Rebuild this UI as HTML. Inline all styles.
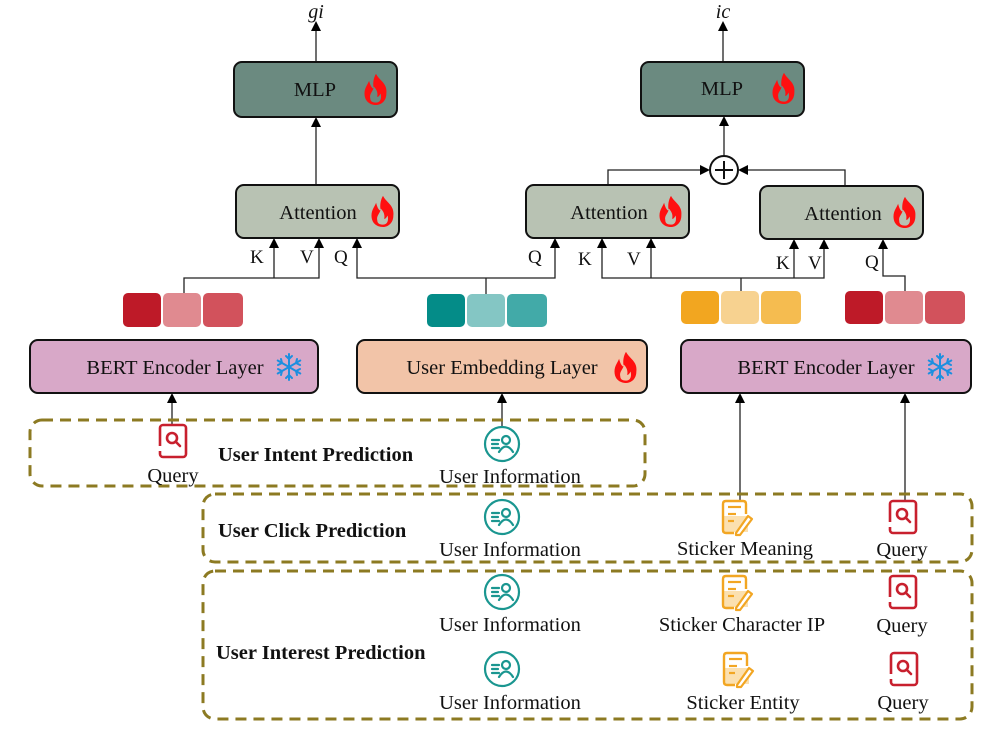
<!DOCTYPE html>
<html><head><meta charset="utf-8"><style>
html,body{margin:0;padding:0;background:#fff;}
svg{display:block;}
text{font-family:"Liberation Serif",serif;fill:#111;}
</style></head><body>
<svg width="997" height="729" viewBox="0 0 997 729" xmlns="http://www.w3.org/2000/svg">
<defs>
<g id="flame">
<path d="M0,-14 C3,-8 10,-6 9,3 C9,10 4,13 0,13 C-5,13 -10,10 -10,3 C-10,-2 -7,-5 -6,-8 C-5,-4 -4,-2 -2,-1 C-3,-6 -2,-11 0,-14 Z M0,11 C4,11 5,7 4,3 C3,5 2,6 1,6 C2,2 0,-1 -2,-3 C-2,1 -6,3 -5,7 C-5,10 -3,11 0,11 Z" fill="#ff1010" fill-rule="evenodd" transform="scale(1.15)"/>
</g>
<g id="snow" stroke="#1c8fe0" stroke-width="2" stroke-linecap="round" fill="none">
<line x1="0" y1="-13" x2="0" y2="13"/>
<line x1="-11.3" y1="-6.5" x2="11.3" y2="6.5"/>
<line x1="-11.3" y1="6.5" x2="11.3" y2="-6.5"/>
<path d="M-3,-11 L0,-8 L3,-11 M-3,11 L0,8 L3,11 M-11,-2 L-7,-4 L-8,-8 M11,2 L7,4 L8,8 M-11,2 L-7,4 L-8,8 M11,-2 L7,-4 L8,-8"/>
</g>
<g id="query">
<rect x="-13" y="-16" width="26" height="32" rx="3" fill="none" stroke="#c8202e" stroke-width="2.6"/>
<rect x="-15" y="5" width="4" height="5" fill="#fff"/>
<circle cx="-1" cy="-3" r="5" fill="none" stroke="#c8202e" stroke-width="2.6"/>
<line x1="3" y1="1" x2="7" y2="5" stroke="#c8202e" stroke-width="2.6" stroke-linecap="round"/>
</g>
<g id="user" fill="none" stroke="#1a9690" stroke-width="2.2" stroke-linecap="round">
<circle cx="0" cy="0" r="17"/>
<line x1="-10" y1="-4" x2="-3" y2="-4"/>
<line x1="-10" y1="0" x2="-4" y2="0"/>
<line x1="-10" y1="4" x2="-3" y2="4"/>
<circle cx="4" cy="-4" r="4"/>
<path d="M-3,8 Q4,-3 11,8"/>
</g>
<g id="sticker">
<rect x="-14" y="-2" width="24" height="16" fill="#fbe0b0"/>
<path d="M8,-4 V-14 Q8,-17 5,-17 H-12 Q-15,-17 -15,-14 V12 Q-15,15 -12,15 H-4" fill="none" stroke="#f2a623" stroke-width="2.4"/>
<line x1="-10" y1="-11" x2="3" y2="-11" stroke="#f2a623" stroke-width="2.2"/>
<line x1="-10" y1="-4" x2="-2" y2="-4" stroke="#f2a623" stroke-width="2.2"/>
<line x1="-10" y1="3" x2="-4" y2="3" stroke="#f2a623" stroke-width="2.2"/>
<path d="M-2,15 L10,-2 L14,1 L2,17 L-2,17 Z" fill="#fff" stroke="#f2a623" stroke-width="2.2" stroke-linejoin="round"/>
</g>
</defs>

<g stroke="#222" stroke-width="1.3" fill="none">
<line x1="316" y1="62" x2="316" y2="28"/>
<line x1="723" y1="62" x2="723" y2="28"/>
<line x1="316" y1="185" x2="316" y2="124"/>
<line x1="724" y1="156" x2="724" y2="123"/>
<polyline points="608,185 608,170 702,170"/>
<polyline points="845,186 845,170 746,170"/>
<polyline points="184,293 184,278 319,278 319,246"/>
<line x1="274" y1="278" x2="274" y2="246"/>
<polyline points="357,246 357,278 555,278 555,246"/>
<line x1="486" y1="278" x2="486" y2="294"/>
<polyline points="602,246 602,278 824,278 824,247"/>
<line x1="651" y1="278" x2="651" y2="246"/>
<line x1="794" y1="278" x2="794" y2="247"/>
<line x1="741" y1="278" x2="741" y2="291"/>
<polyline points="883,247 883,276 905,276 905,291"/>
<line x1="172" y1="425" x2="172" y2="400"/>
<line x1="502" y1="427" x2="502" y2="400"/>
<line x1="740" y1="500" x2="740" y2="400"/>
<line x1="905" y1="500" x2="905" y2="400"/>
</g>
<g fill="#000">
<polygon points="316,21 311,31 321,31"/>
<polygon points="723,21 718,31 728,31"/>
<polygon points="316,117 311,127 321,127"/>
<polygon points="724,116 719,126 729,126"/>
<polygon points="710,170 700,165 700,175"/>
<polygon points="738,170 748,165 748,175"/>
<polygon points="274,238 269,248 279,248"/>
<polygon points="319,238 314,248 324,248"/>
<polygon points="357,238 352,248 362,248"/>
<polygon points="555,238 550,248 560,248"/>
<polygon points="602,238 597,248 607,248"/>
<polygon points="651,238 646,248 656,248"/>
<polygon points="794,239 789,249 799,249"/>
<polygon points="824,239 819,249 829,249"/>
<polygon points="883,239 878,249 888,249"/>
<polygon points="172,393 167,403 177,403"/>
<polygon points="502,393 497,403 507,403"/>
<polygon points="740,393 735,403 745,403"/>
<polygon points="905,393 900,403 910,403"/>
</g>

<circle cx="724" cy="170" r="14" fill="#fff" stroke="#111" stroke-width="2"/>
<line x1="715" y1="170" x2="733" y2="170" stroke="#111" stroke-width="2"/>
<line x1="724" y1="161" x2="724" y2="179" stroke="#111" stroke-width="2"/>

<text x="316" y="18" font-size="20" font-style="italic" text-anchor="middle">gi</text>
<text x="723" y="18" font-size="20" font-style="italic" text-anchor="middle">ic</text>

<rect x="234" y="62" width="163" height="55" rx="8" fill="#6b8a80" stroke="#111" stroke-width="2"/>
<text x="315" y="96" font-size="20.5" text-anchor="middle">MLP</text>
<use href="#flame" x="376" y="90"/>
<rect x="641" y="62" width="163" height="54" rx="8" fill="#6b8a80" stroke="#111" stroke-width="2"/>
<text x="722" y="95" font-size="20.5" text-anchor="middle">MLP</text>
<use href="#flame" x="784" y="89"/>

<rect x="236" y="185" width="163" height="53" rx="8" fill="#b8c2b3" stroke="#111" stroke-width="2"/>
<text x="318" y="219" font-size="20.5" text-anchor="middle">Attention</text>
<use href="#flame" x="383" y="212"/>
<rect x="526" y="185" width="163" height="53" rx="8" fill="#b8c2b3" stroke="#111" stroke-width="2"/>
<text x="609" y="219" font-size="20.5" text-anchor="middle">Attention</text>
<use href="#flame" x="671" y="212"/>
<rect x="760" y="186" width="163" height="53" rx="8" fill="#b8c2b3" stroke="#111" stroke-width="2"/>
<text x="843" y="220" font-size="20.5" text-anchor="middle">Attention</text>
<use href="#flame" x="905" y="213"/>

<g font-size="19">
<text x="250" y="263">K</text><text x="300" y="263">V</text><text x="334" y="263">Q</text>
<text x="528" y="263">Q</text><text x="578" y="265">K</text><text x="627" y="265">V</text>
<text x="776" y="269">K</text><text x="808" y="269">V</text><text x="865" y="268">Q</text>
</g>

<rect x="123" y="293" width="38" height="34" rx="5" fill="#be1a28"/>
<rect x="163" y="293" width="38" height="34" rx="5" fill="#e08a90"/>
<rect x="203" y="293" width="40" height="34" rx="5" fill="#d2525c"/>
<rect x="427" y="294" width="38" height="33" rx="5" fill="#048c88"/>
<rect x="467" y="294" width="38" height="33" rx="5" fill="#84c6c4"/>
<rect x="507" y="294" width="40" height="33" rx="5" fill="#42aaa8"/>
<rect x="681" y="291" width="38" height="33" rx="5" fill="#f2a620"/>
<rect x="721" y="291" width="38" height="33" rx="5" fill="#f7d290"/>
<rect x="761" y="291" width="40" height="33" rx="5" fill="#f5bc50"/>
<rect x="845" y="291" width="38" height="33" rx="5" fill="#be1a28"/>
<rect x="885" y="291" width="38" height="33" rx="5" fill="#e08a90"/>
<rect x="925" y="291" width="40" height="33" rx="5" fill="#d2525c"/>

<rect x="30" y="340" width="288" height="53" rx="8" fill="#d8a8c8" stroke="#111" stroke-width="2"/>
<text x="175" y="374" font-size="20.5" text-anchor="middle">BERT Encoder Layer</text>
<use href="#snow" x="289" y="367"/>
<rect x="357" y="340" width="290" height="53" rx="8" fill="#f2c4a8" stroke="#111" stroke-width="2"/>
<text x="502" y="374" font-size="20.5" text-anchor="middle">User Embedding Layer</text>
<use href="#flame" x="626" y="368"/>
<rect x="681" y="340" width="290" height="53" rx="8" fill="#d8a8c8" stroke="#111" stroke-width="2"/>
<text x="826" y="374" font-size="20.5" text-anchor="middle">BERT Encoder Layer</text>
<use href="#snow" x="940" y="367"/>

<g fill="none" stroke="#8c7a22" stroke-width="3" stroke-dasharray="11,7">
<rect x="30" y="420" width="615" height="66" rx="12"/>
<rect x="203" y="494" width="769" height="68" rx="12"/>
<rect x="203" y="571" width="769" height="148" rx="12"/>
</g>

<use href="#query" x="173" y="441"/>
<text x="173" y="482" font-size="20.5" text-anchor="middle">Query</text>
<text x="218" y="461" font-size="20.5" font-weight="bold">User Intent Prediction</text>
<use href="#user" x="502" y="444"/>
<text x="510" y="483" font-size="20.5" text-anchor="middle">User Information</text>

<text x="218" y="537" font-size="20.5" font-weight="bold">User Click Prediction</text>
<use href="#user" x="502" y="517"/>
<text x="510" y="556" font-size="20.5" text-anchor="middle">User Information</text>
<use href="#sticker" x="738" y="518"/>
<text x="745" y="555" font-size="20.5" text-anchor="middle">Sticker Meaning</text>
<use href="#query" x="903" y="517"/>
<text x="902" y="556" font-size="20.5" text-anchor="middle">Query</text>

<use href="#user" x="502" y="592"/>
<text x="510" y="631" font-size="20.5" text-anchor="middle">User Information</text>
<use href="#sticker" x="738" y="593"/>
<text x="742" y="631" font-size="20.5" text-anchor="middle">Sticker Character IP</text>
<use href="#query" x="903" y="592"/>
<text x="902" y="632" font-size="20.5" text-anchor="middle">Query</text>

<text x="216" y="659" font-size="20.5" font-weight="bold">User Interest Prediction</text>
<use href="#user" x="502" y="669"/>
<text x="510" y="709" font-size="20.5" text-anchor="middle">User Information</text>
<use href="#sticker" x="739" y="670"/>
<text x="743" y="709" font-size="20.5" text-anchor="middle">Sticker Entity</text>
<use href="#query" x="904" y="669"/>
<text x="903" y="709" font-size="20.5" text-anchor="middle">Query</text>
</svg>
</body></html>
